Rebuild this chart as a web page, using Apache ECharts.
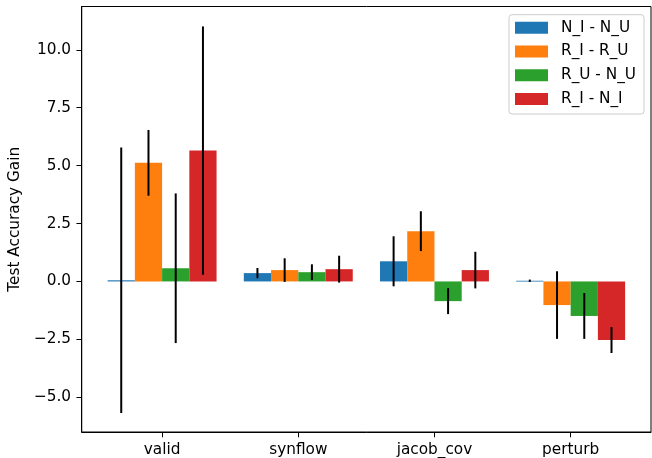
<!DOCTYPE html>
<html>
<head>
<meta charset="utf-8">
<script src="https://cdn.jsdelivr.net/npm/echarts@6/dist/echarts.min.js"></script>
<style>html,body{margin:0;padding:0;background:#fff}#c{width:652px;height:458px}</style>
</head>
<body>
<div id="c"></div>
<script>
const categories = ['valid', 'synflow', 'jacob_cov', 'perturb'];
const seriesNames = ['N_I - N_U', 'R_I - R_U', 'R_U - N_U', 'R_I - N_I'];
const colors = ['#1f77b4', '#ff7f0e', '#2ca02c', '#d62728'];
const nINU = [0.05, 0.36, 0.87, 0.03];
const rIRU = [5.12, 0.49, 2.17, -1.02];
const rUNU = [0.57, 0.40, -0.85, -1.49];
const rINI = [5.65, 0.53, 0.49, -2.53];
const errNINU = [5.73, 0.22, 1.08, 0.05];
const errRIRU = [1.42, 0.51, 0.86, 1.46];
const errRUNU = [3.23, 0.34, 0.56, 0.99];
const errRINI = [5.36, 0.58, 0.79, 0.56];
const yTicks = [-5, -2.5, 0, 2.5, 5, 7.5, 10];

const values = [nINU, rIRU, rUNU, rINI];
const errs = [errNINU, errRIRU, errRUNU, errRINI];
const barW = 0.2;
const FONT = 'DejaVu Sans';
const FS = 15.3;

const series = seriesNames.map((name, i) => ({
  name: name,
  type: 'custom',
  itemStyle: { color: colors[i] },
  encode: { x: 0, y: 1 },
  data: categories.map((c, j) => [j + (i - 1.5) * barW, values[i][j], errs[i][j]]),
  renderItem: function (params, api) {
    const x = api.value(0), v = api.value(1), e = api.value(2);
    const pA = api.coord([x - barW / 2, v]);
    const pB = api.coord([x + barW / 2, 0]);
    const eT = api.coord([x, v + e]);
    const eB = api.coord([x, v - e]);
    return {
      type: 'group',
      children: [
        { type: 'rect', shape: { x: pA[0], y: Math.min(pA[1], pB[1]), width: pB[0] - pA[0], height: Math.max(Math.abs(pB[1] - pA[1]), 0.8) }, style: { fill: colors[i] } },
        { type: 'line', shape: { x1: eT[0], y1: eT[1], x2: eB[0], y2: eB[1] }, style: { stroke: '#000', lineWidth: 2 } }
      ]
    };
  }
}));

const chart = echarts.init(document.getElementById('c'), null, { renderer: 'canvas' });
chart.setOption({
  animation: false,
  backgroundColor: '#fff',
  textStyle: { fontFamily: FONT },
  grid: { left: 80.5, right: 1, top: 6.5, bottom: 24.7, show: true, borderColor: '#000', borderWidth: 1, containLabel: false },
  legend: {
    orient: 'vertical',
    left: 509, top: 14.7,
    data: seriesNames.map(n => ({ name: n, icon: 'rect' })),
    itemWidth: 33, itemHeight: 12, itemGap: 8.7,
    padding: [5.6, 8, 7.6, 6],
    borderColor: '#cccccc', borderWidth: 1, borderRadius: 3,
    backgroundColor: 'rgba(255,255,255,0.8)',
    textStyle: { fontFamily: FONT, fontSize: FS, color: '#000', padding: [0, 0, 0, 8] }
  },
  xAxis: {
    type: 'value', min: -0.59, max: 3.59,
    axisLine: { show: true, onZero: false, lineStyle: { color: '#000', width: 1 } },
    axisTick: { show: true, inside: false, length: 5.3, customValues: [0, 1, 2, 3], lineStyle: { color: '#000' } },
    axisLabel: { customValues: [0, 1, 2, 3], formatter: v => categories[Math.round(v)], fontFamily: FONT, fontSize: FS, color: '#000', margin: 11 },
    splitLine: { show: false }
  },
  yAxis: {
    type: 'value', min: -6.5, max: 11.87,
    name: 'Test Accuracy Gain', nameLocation: 'middle', nameGap: 56,
    nameTextStyle: { fontFamily: FONT, fontSize: FS, color: '#000' },
    axisLine: { show: true, onZero: false, lineStyle: { color: '#000', width: 1 } },
    axisTick: { show: true, inside: false, length: 5.3, customValues: yTicks, lineStyle: { color: '#000' } },
    axisLabel: { customValues: yTicks, formatter: v => (v < 0 ? '\u2212' : '') + Math.abs(v).toFixed(1), fontFamily: FONT, fontSize: FS, color: '#000', margin: 10.7 },
    splitLine: { show: false }
  },
  series: series
});
</script>
</body>
</html>
